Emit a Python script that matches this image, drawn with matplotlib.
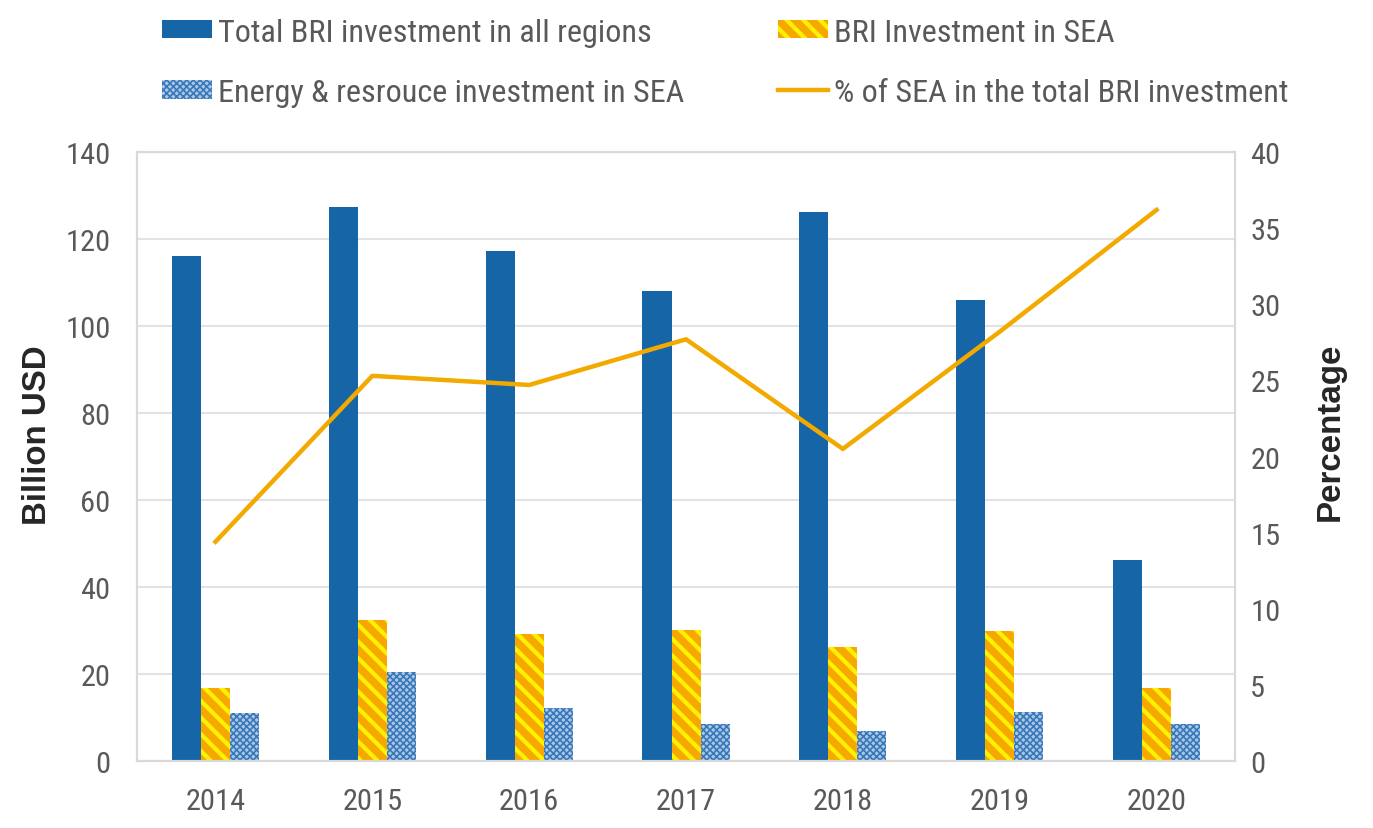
import numpy as np
import matplotlib
matplotlib.use("Agg")
import matplotlib.pyplot as plt
from matplotlib import font_manager
from matplotlib.lines import Line2D
from matplotlib.patches import Patch

# values
years = ["2014", "2015", "2016", "2017", "2018", "2019", "2020"]
total_bri = [116.2, 127.4, 117.3, 108.1, 126.2, 105.9, 46.3]
bri_sea = [16.8, 32.4, 29.3, 30.1, 26.2, 29.9, 16.9]
energy_sea = [11.1, 20.4, 12.3, 8.5, 6.9, 11.2, 8.5]
sea_share = [14.4, 25.3, 24.7, 27.7, 20.5, 28.2, 36.2]

left_ticks = [0, 20, 40, 60, 80, 100, 120, 140]
right_ticks = [0, 5, 10, 15, 20, 25, 30, 35, 40]

legend_labels = ["Total BRI investment in all regions",
                 "Energy & resrouce investment in SEA",
                 "BRI Investment in SEA",
                 "% of SEA in the total BRI investment"]

navy = "#1565a7"
orange = "#f7a800"
yellow = "#fff200"
light_blue = "#a9c9ea"
dot_blue = "#3a78b8"
line_col = "#f2a900"
grid_col = "#e3e3e3"
txt_col = "#595959"

# the reference uses a narrow face; take one if there is any
installed = {f.name for f in font_manager.fontManager.ttflist}
narrow = "DejaVu Sans"
stretch = "normal"
for cand in ["Liberation Sans Narrow", "Roboto Condensed", "Open Sans Condensed",
             "Noto Sans Condensed", "DejaVu Sans Condensed"]:
    if cand in installed:
        narrow = cand
        break
else:
    if any(f.name == "DejaVu Sans" and f.stretch in ("condensed", 500)
           for f in font_manager.fontManager.ttflist):
        stretch = "condensed"
plt.rcParams["font.family"] = [narrow, "DejaVu Sans"]
plt.rcParams["font.stretch"] = stretch

fig = plt.figure(figsize=(13.73, 8.29), dpi=100)
renderer = fig.canvas.get_renderer()


# pick a font size so that a sample string is as wide as in the reference
def fit_size(sample, width_px, **kw):
    t = fig.text(0, 0, sample, fontsize=20, **kw)
    w = t.get_window_extent(renderer).width
    t.remove()
    return 20 * width_px / w


tick_size = fit_size("2014", 60)
leg_size = fit_size(legend_labels[0], 434)
lab_size = min(fit_size("Billion USD", 180, fontweight="bold",
                        family="Liberation Sans"), 24)
leg_px = leg_size * 100 / 72

ax = fig.add_axes([0.0998, 0.0808, 0.7997, 0.7346])

x = np.arange(len(years))
w = 0.185

ax.bar(x - w, total_bri, w, color=navy, linewidth=0, zorder=2)
with plt.rc_context({"hatch.linewidth": 3.0}):
    ax.bar(x, bri_sea, w, color=orange, edgecolor=yellow, hatch="\\\\",
           linewidth=0, zorder=2)
with plt.rc_context({"hatch.linewidth": 1.2}):
    ax.bar(x + w, energy_sea, w, color=light_blue, edgecolor=dot_blue,
           hatch="xxxxx", linewidth=0, zorder=2)

ax.set_xlim(-0.5, len(years) - 0.5)
ax.set_ylim(0, 140)
ax.set_yticks(left_ticks)
ax.set_xticks(x)
ax.set_xticklabels(years)
ax.grid(axis="y", color=grid_col, linewidth=1.5, zorder=0)
ax.set_axisbelow(True)
ax.tick_params(axis="y", length=0, pad=19, labelsize=tick_size,
               labelcolor=txt_col)
ax.tick_params(axis="x", length=0, pad=19, labelsize=tick_size,
               labelcolor=txt_col)
for s in ax.spines.values():
    s.set_color("#d9d9d9")
    s.set_linewidth(1.5)

ax2 = ax.twinx()
ax2.plot(x, sea_share, color=line_col, linewidth=3.2, zorder=3)
ax2.set_ylim(0, 40)
ax2.set_yticks(right_ticks)
ax2.tick_params(axis="y", length=0, pad=11, labelsize=tick_size,
                labelcolor=txt_col)
for s in ax2.spines.values():
    s.set_color("#d9d9d9")
    s.set_linewidth(1.5)

fig.text(38 / 1373, 1 - 435 / 829, "Billion USD", rotation=90,
         ha="center", va="center", fontsize=lab_size, fontweight="bold",
         family="Liberation Sans", color="#262626")
fig.text(1330 / 1373, 1 - 432 / 829, "Percentage", rotation=90,
         ha="center", va="center", fontsize=lab_size, fontweight="bold",
         family="Liberation Sans", color="#262626")

# two one-column legends so each hatch keeps its own line width
leg_kw = dict(loc="upper left", frameon=False, fontsize=leg_size,
              handlelength=50 / leg_px, handleheight=0.5,
              handletextpad=6 / leg_px,
              labelspacing=(69 - leg_px * 1.17) / leg_px,
              borderpad=0, borderaxespad=0)
top = 1 - (38 - 0.6 * leg_px) / 829

with plt.rc_context({"hatch.linewidth": 1.2}):
    h_total = Patch(facecolor=navy, linewidth=0)
    h_energy = Patch(facecolor=light_blue, edgecolor=dot_blue, hatch="xxxxx",
                     linewidth=0)
    leg1 = fig.legend([h_total, h_energy], legend_labels[:2],
                      bbox_to_anchor=(162 / 1373, top), **leg_kw)
with plt.rc_context({"hatch.linewidth": 3.0}):
    h_sea = Patch(facecolor=orange, edgecolor=yellow, hatch="\\\\", linewidth=0)
    h_line = Line2D([], [], color=line_col, linewidth=3.2)
    leg2 = fig.legend([h_sea, h_line], legend_labels[2:],
                      bbox_to_anchor=(778 / 1373, top), **leg_kw)
for leg in (leg1, leg2):
    for t in leg.get_texts():
        t.set_color(txt_col)

fig.savefig("out.png", dpi=100, facecolor="white")
